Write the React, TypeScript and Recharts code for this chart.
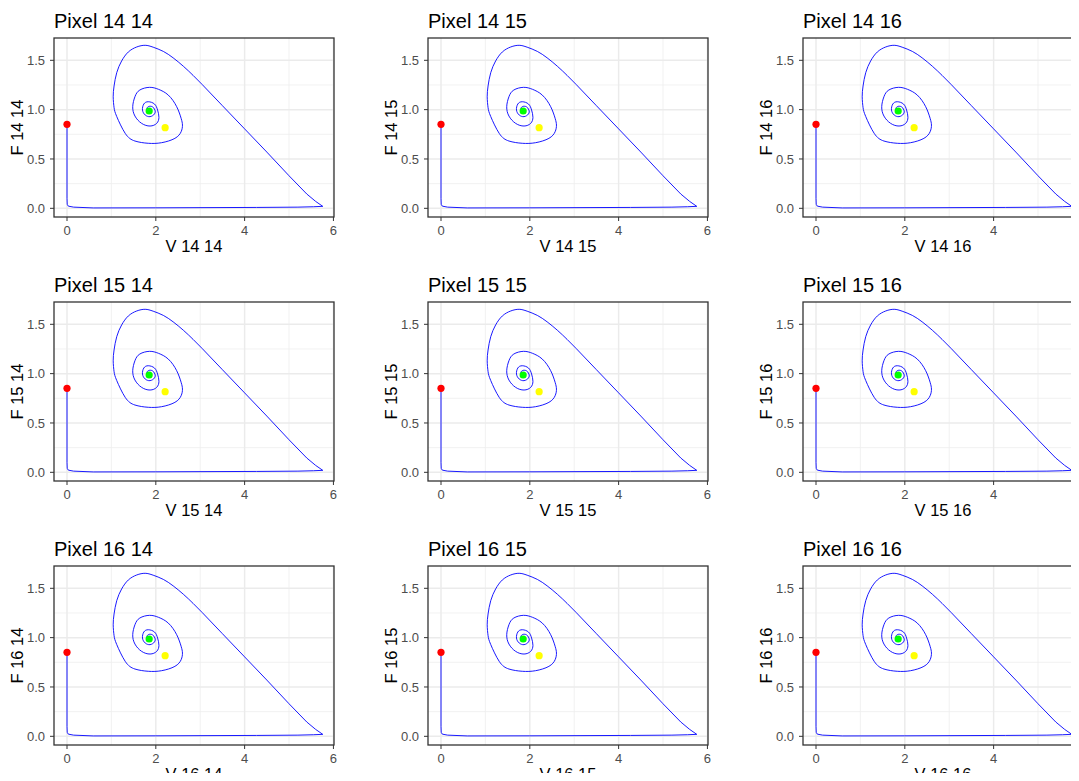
import { ScatterChart, Scatter, XAxis, YAxis, CartesianGrid } from "recharts";

const rowIds = ["14", "15", "16"];
const colIds = ["14", "15", "16"];

const xTicks = [0, 2, 4, 6];
const xMinor = [1, 3, 5];
const yTicks = [0, 0.5, 1, 1.5];
const yMinor = [0.25, 0.75, 1.25];

// start point straight down to F ~ 0, along the bottom to the far corner, then back up the long edge
const legV = [0, 0, 0, 0.005, 0.03, 0.15, 0.59, 2.0, 4.27, 5.2, 5.55, 5.76, 5.6, 5.4, 5.0, 4.5, 4.0, 3.5, 3.05];
const legF = [0.851, 0.5, 0.1, 0.04, 0.022, 0.012, 0.004, 0.005, 0.009, 0.012, 0.016, 0.02, 0.07, 0.145, 0.33, 0.57, 0.805, 1.04, 1.252];

// top arc and the spiral into the fixed point
const spiralV = [
  3.05, 2.84, 2.62, 2.39, 2.17, 1.94, 1.76, 1.57, 1.38,
  1.23, 1.12, 1.06, 1.04, 1.06, 1.12, 1.31, 1.53, 1.83, 2.13, 2.43, 2.57, 2.6, 2.57,
  2.47, 2.28, 2.06, 1.86, 1.64, 1.53, 1.48, 1.53, 1.68, 1.87, 2.02, 2.07, 2.04, 1.97,
  1.83, 1.73, 1.7, 1.76, 1.87, 1.97, 1.98, 1.92, 1.83, 1.8, 1.85, 1.88,
];
const spiralF = [
  1.252, 1.347, 1.44, 1.525, 1.59, 1.633, 1.652,
  1.635, 1.584, 1.493, 1.375, 1.24, 1.13, 1.02, 0.93, 0.76, 0.682, 0.659, 0.665, 0.709,
  0.776, 0.844, 0.912, 1.03, 1.148, 1.206, 1.226, 1.199, 1.131, 1.03, 0.935, 0.861,
  0.834, 0.861, 0.922, 0.996, 1.057, 1.08, 1.057, 0.996, 0.946, 0.929, 0.956, 0.996,
  1.03, 1.03, 1.0, 0.97, 0.99,
];

// start, stable equilibrium, other equilibrium
const markV = [0, 1.85, 2.21];
const markF = [0.851, 0.986, 0.817];
const markColors = ["#FF0000", "#00FF00", "#FFFF00"];

const legData = legV.map((v, i) => ({ V: v, F: legF[i] }));
const spiralData = spiralV.map((v, i) => ({ V: v, F: spiralF[i] }));

const PANEL_W = 374;
const PANEL_H = 264;
const colLeft = [0, 374, 749];

function Panel({ row, col, ri, ci }: { row: string; col: string; ri: number; ci: number }) {
  const tag = `${row} ${col}`;
  return (
    <div
      style={{
        position: "absolute",
        left: colLeft[ci],
        top: ri * 264,
        width: PANEL_W,
        height: PANEL_H,
      }}
    >
      <ScatterChart
        width={PANEL_W}
        height={PANEL_H}
        margin={{ top: 38, right: 40, bottom: 0, left: 0 }}
      >
        <CartesianGrid
          horizontalValues={yMinor}
          verticalValues={xMinor}
          stroke="#EDEDED"
          strokeWidth={0.8}
        />
        <CartesianGrid
          horizontalValues={yTicks}
          verticalValues={xTicks}
          stroke="#EBEBEB"
          strokeWidth={1.5}
        />
        <XAxis
          type="number"
          dataKey="V"
          domain={[-0.293, 6.013]}
          ticks={xTicks}
          allowDataOverflow
          height={47}
          axisLine={false}
          tickSize={4}
          tickMargin={5}
          tick={{ fill: "#4D4D4D", fontSize: 13 }}
          tickLine={{ stroke: "#333333" }}
          label={{
            value: `V ${tag}`,
            position: "insideBottom",
            offset: 12,
            fill: "#000",
            fontSize: 16.5,
          }}
        />
        <YAxis
          type="number"
          dataKey="F"
          domain={[-0.088, 1.726]}
          ticks={yTicks}
          allowDataOverflow
          width={54}
          axisLine={false}
          tickSize={4}
          tickMargin={5}
          tick={{ fill: "#4D4D4D", fontSize: 13 }}
          tickLine={{ stroke: "#333333" }}
          tickFormatter={(v: number) => v.toFixed(1)}
          label={{
            value: `F ${tag}`,
            angle: -90,
            position: "insideLeft",
            offset: 17,
            fill: "#000",
            fontSize: 16.5,
            style: { textAnchor: "middle" },
          }}
        />
        <Scatter
          data={legData}
          fill="#0000FF"
          line={{ stroke: "#0000FF", strokeWidth: 0.9 }}
          lineJointType="linear"
          shape={() => <g />}
          isAnimationActive={false}
        />
        <Scatter
          data={spiralData}
          fill="#0000FF"
          line={{ stroke: "#0000FF", strokeWidth: 0.9 }}
          lineJointType="natural"
          shape={() => <g />}
          isAnimationActive={false}
        />
        {markV.map((v, i) => (
          <Scatter
            key={i}
            data={[{ V: v, F: markF[i] }]}
            fill={markColors[i]}
            shape={(p: any) => <circle cx={p.cx} cy={p.cy} r={3.6} fill={markColors[i]} />}
            isAnimationActive={false}
          />
        ))}
      </ScatterChart>
      <svg
        width={PANEL_W}
        height={PANEL_H}
        style={{ position: "absolute", left: 0, top: 0, pointerEvents: "none" }}
      >
        <text x={54} y={28} fontSize={20} fill="#000">
          Pixel {tag}
        </text>
        <rect x={54} y={38} width={280} height={179} fill="none" stroke="#333333" strokeWidth={1.3} />
      </svg>
    </div>
  );
}

export default function App() {
  return (
    <div
      style={{
        position: "relative",
        width: 1079,
        height: 781,
        margin: -8,
        overflow: "hidden",
        background: "#FFFFFF",
        fontFamily: '"Liberation Sans", Arial, sans-serif',
      }}
    >
      {rowIds.map((row, ri) =>
        colIds.map((col, ci) => <Panel key={`${ri}-${ci}`} row={row} col={col} ri={ri} ci={ci} />)
      )}
    </div>
  );
}
